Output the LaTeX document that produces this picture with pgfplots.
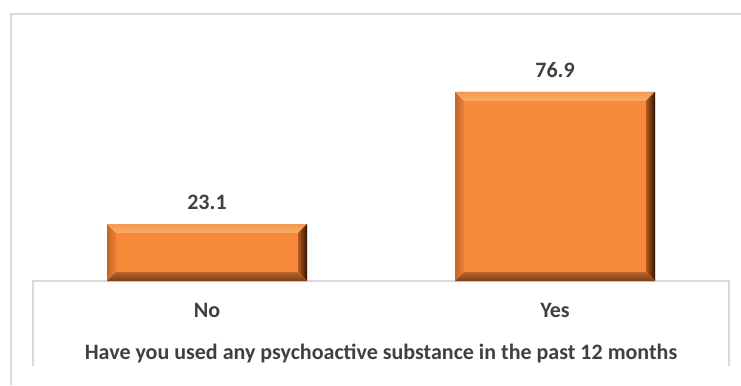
\documentclass[border=0pt]{standalone}
\usepackage{fontspec}
\setmainfont{Carlito}
\usepackage{pgfplots}
\pgfplotsset{compat=1.18}
\usetikzlibrary{calc}

\definecolor{framegray}{HTML}{D9D9D9}
\definecolor{labelgray}{HTML}{404040}
\definecolor{barface}{HTML}{F7893B}
\definecolor{bevtopout}{HTML}{F59A55}
\definecolor{bevtopin}{HTML}{FCAA66}
\definecolor{bevleftout}{HTML}{C4652A}
\definecolor{bevleftin}{HTML}{EE8034}
\definecolor{bevrightin}{HTML}{B95A1C}
\definecolor{bevrightout}{HTML}{2E1606}
\definecolor{bevbottomin}{HTML}{B4642C}
\definecolor{bevbottomout}{HTML}{7C3E16}

\newcommand\bev{9bp}
\newcommand\chartfont{\fontsize{22bp}{26bp}\selectfont\bfseries}
\newif\ifinbevel
\newdimen\bevxa
\newdimen\bevxb

% bevelled bar face: four edge strips drawn inside each bar's own outline
\newcommand\bevelstrips{%
  \coordinate (bl) at (path picture bounding box.south west);
  \coordinate (tr) at (path picture bounding box.north east);
  \coordinate (tl) at (bl|-tr);
  \coordinate (br) at (tr|-bl);
  \shade[left color=bevleftout, right color=bevleftin]
    (bl) -- (tl) -- ($(tl)+(\bev,-\bev)$) -- ($(bl)+(\bev,\bev)$) -- cycle;
  \shade[top color=bevtopout, bottom color=bevtopin]
    (tl) -- (tr) -- ($(tr)+(-\bev,-\bev)$) -- ($(tl)+(\bev,-\bev)$) -- cycle;
  \shade[left color=bevrightin, right color=bevrightout]
    (br) -- (tr) -- ($(tr)+(-\bev,-\bev)$) -- ($(br)+(-\bev,\bev)$) -- cycle;
  \shade[top color=bevbottomin, bottom color=bevbottomout]
    (bl) -- (br) -- ($(br)+(-\bev,\bev)$) -- ($(bl)+(\bev,\bev)$) -- cycle;
}

\tikzset{
  bevelled/.style={
    fill=barface, draw=none,
    path picture={%
      \ifinbevel\else
        \inbeveltrue
        \pgftransformreset
        \pgfextractx{\bevxa}{\pgfpointanchor{path picture bounding box}{south west}}%
        \pgfextractx{\bevxb}{\pgfpointanchor{path picture bounding box}{north east}}%
        \ifdim\bevxa<5000pt
          \ifdim\bevxb>-5000pt
            \ifdim\bevxb>\bevxa
              \bevelstrips
            \fi
          \fi
        \fi
      \fi
    }
  }
}

\begin{document}
\begin{tikzpicture}[x=1bp,y=1bp]
  \useasboundingbox (0,0) rectangle (741,385);

  % outer chart frame
  \draw[framegray, line width=1.5bp] (11,0) -- (11,371) -- (741,371);

  % category box below the bars
  \draw[framegray, line width=1.5bp] (33,19) -- (33,104) -- (729,104) -- (729,19);

  \begin{axis}[
    at={(33bp,104bp)}, anchor=south west,
    scale only axis, width=696bp, height=246bp,
    xmin=-0.5, xmax=1.5, ymin=0, ymax=100,
    ybar, bar width=200bp, bar shift=0pt,
    axis line style={draw=none},
    hide y axis,
    xtick={0,1}, xticklabels={No,Yes},
    major tick length=0pt,
    xticklabel style={font=\chartfont, text=labelgray, anchor=base, yshift=-36bp},
    point meta=explicit symbolic,
    nodes near coords,
    every node near coord/.append style={font=\chartfont, text=labelgray, anchor=base, yshift=14.5bp},
    clip=false,
  ]
    \addplot[bevelled] coordinates {(0,23.1) [23.1]};
    \addplot[bevelled] coordinates {(1,76.9) [76.9]};

    \node[font=\chartfont, text=labelgray, anchor=base, yshift=-78bp]
      at (rel axis cs:0.5,0) {Have you used any psychoactive substance in the past 12 months};
  \end{axis}
\end{tikzpicture}
\end{document}
